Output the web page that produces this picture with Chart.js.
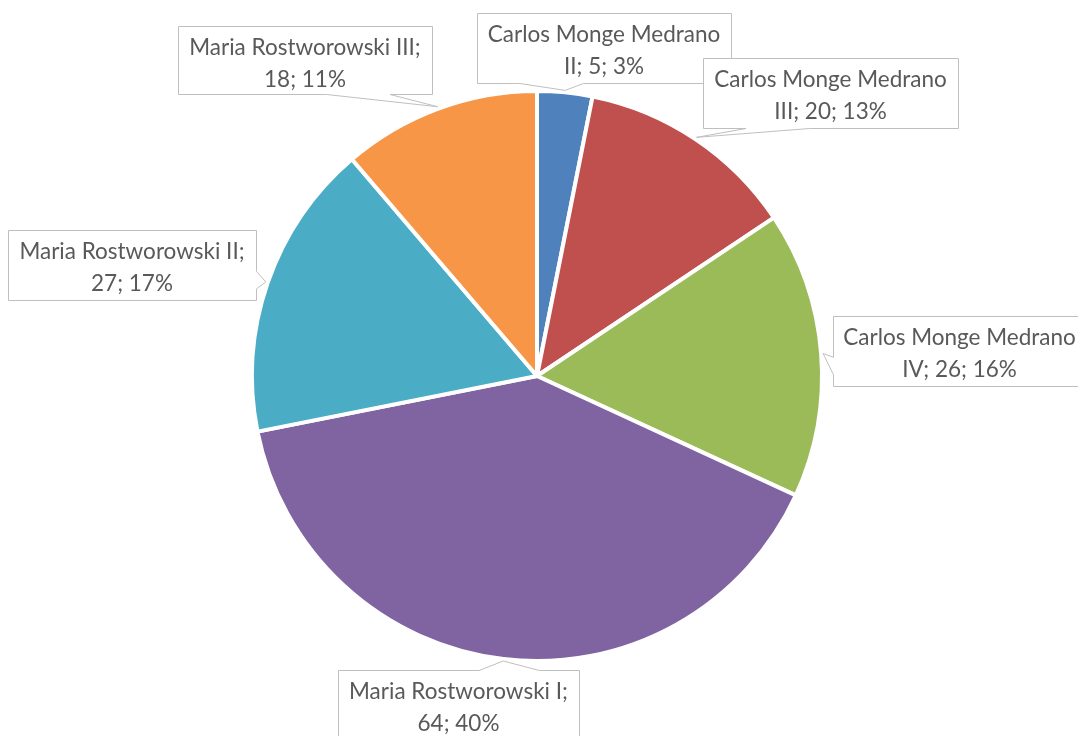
<!DOCTYPE html>
<html>
<head>
<meta charset="utf-8">
<title>Pie</title>
<script src="https://cdn.jsdelivr.net/npm/chart.js@4.4.1/dist/chart.umd.min.js"></script>
<style>
html, body { margin: 0; padding: 0; background: #fff; }
</style>
</head>
<body>
<canvas id="pieChart" width="1078" height="736"></canvas>
<script>
// data
const labels = [
    'Carlos Monge Medrano II',
    'Carlos Monge Medrano III',
    'Carlos Monge Medrano IV',
    'Maria Rostworowski I',
    'Maria Rostworowski II',
    'Maria Rostworowski III'
];
const values = [5, 20, 26, 64, 27, 18];
const sliceColors = ['#4F81BD', '#C0504D', '#9BBB59', '#8064A2', '#4BACC6', '#F79646'];

// callout boxes (layout only): left, top, width, height
const calloutBoxes = [
    [477, 13, 254, 70],
    [703, 58, 255, 70],
    [833, 316, 253, 70],
    [338, 670, 241, 70],
    [8, 230, 248, 70],
    [178, 26, 254, 68]
];

const FONT_FAMILY = 'Lato, "Open Sans", sans-serif';
const TEXT_COLOR = '#595959';
const BOX_BORDER = '#BFBFBF';

// fit the font so the widest line matches the picture (~233px)
const measureCtx = document.createElement('canvas').getContext('2d');
measureCtx.font = `100px ${FONT_FAMILY}`;
const fontSize = Math.round(100 * 233 / measureCtx.measureText('Carlos Monge Medrano').width * 10) / 10;

function wrapText(ctx, text, maxWidth) {
    const words = text.split(' ');
    const lines = [];
    let line = '';
    words.forEach(w => {
        const test = line ? line + ' ' + w : w;
        if (ctx.measureText(test).width > maxWidth && line) {
            lines.push(line);
            line = w;
        } else {
            line = test;
        }
    });
    if (line) lines.push(line);
    return lines;
}

function drawCallout(ctx, x, y, w, h, ax, ay) {
    const cx = x + w / 2, cy = y + h / 2;
    const dx = (ax - cx) / w, dy = (ay - cy) / h;
    const vertical = Math.abs(dy) >= Math.abs(dx);
    const bx1 = x + w * (dx > 0 ? 7 : 2) / 12, bx2 = x + w * (dx > 0 ? 10 : 5) / 12;
    const by1 = y + h * (dy > 0 ? 7 : 2) / 12, by2 = y + h * (dy > 0 ? 10 : 5) / 12;

    ctx.beginPath();
    ctx.moveTo(x, y);
    if (vertical && ay < y) { ctx.lineTo(bx1, y); ctx.lineTo(ax, ay); ctx.lineTo(bx2, y); }
    ctx.lineTo(x + w, y);
    if (!vertical && ax > x + w) { ctx.lineTo(x + w, by1); ctx.lineTo(ax, ay); ctx.lineTo(x + w, by2); }
    ctx.lineTo(x + w, y + h);
    if (vertical && ay > y + h) { ctx.lineTo(bx2, y + h); ctx.lineTo(ax, ay); ctx.lineTo(bx1, y + h); }
    ctx.lineTo(x, y + h);
    if (!vertical && ax < x) { ctx.lineTo(x, by2); ctx.lineTo(ax, ay); ctx.lineTo(x, by1); }
    ctx.closePath();
    ctx.fillStyle = '#ffffff';
    ctx.fill();
    ctx.strokeStyle = BOX_BORDER;
    ctx.lineWidth = 1;
    ctx.stroke();
}

const calloutPlugin = {
    id: 'callouts',
    afterDatasetsDraw(chart) {
        const ctx = chart.ctx;
        const meta = chart.getDatasetMeta(0);
        const total = values.reduce((a, b) => a + b, 0);
        ctx.save();
        ctx.font = `${fontSize}px ${FONT_FAMILY}`;
        meta.data.forEach((arc, i) => {
            const p = arc.getProps(['x', 'y', 'startAngle', 'endAngle', 'outerRadius'], true);
            const mid = (p.startAngle + p.endAngle) / 2;
            const ax = p.x + Math.cos(mid) * (p.outerRadius + 2);
            const ay = p.y + Math.sin(mid) * (p.outerRadius + 2);
            const [bx, by, bw, bh] = calloutBoxes[i];
            drawCallout(ctx, bx + 0.5, by + 0.5, bw, bh, ax, ay);

            const pct = Math.round(values[i] / total * 100);
            const lines = wrapText(ctx, `${labels[i]}; ${values[i]}; ${pct}%`, 240);
            ctx.fillStyle = TEXT_COLOR;
            ctx.textAlign = 'center';
            ctx.textBaseline = 'alphabetic';
            lines.forEach((ln, k) => {
                ctx.fillText(ln, bx + bw / 2, by + 29 + k * 32);
            });
        });
        ctx.restore();
    }
};

const ctx = document.getElementById('pieChart').getContext('2d');
new Chart(ctx, {
    type: 'pie',
    data: {
        labels,
        datasets: [{
            data: values,
            backgroundColor: sliceColors,
            borderColor: '#ffffff',
            borderWidth: 4
        }]
    },
    options: {
        responsive: false,
        animation: false,
        devicePixelRatio: 1,
        layout: { padding: { top: 89, bottom: 73, left: 0, right: 4 } },
        plugins: {
            legend: { display: false },
            tooltip: { enabled: false }
        }
    },
    plugins: [calloutPlugin]
});
</script>
</body>
</html>
